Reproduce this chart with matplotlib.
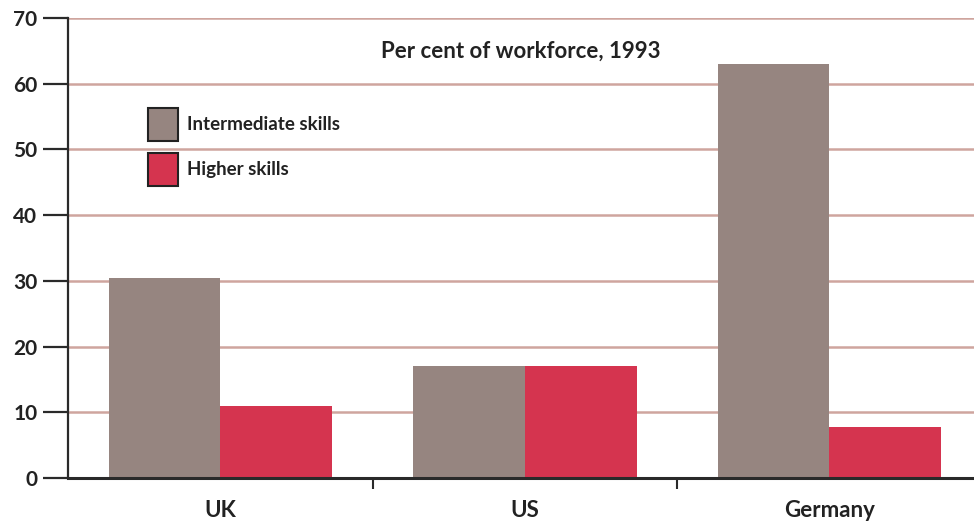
import matplotlib
matplotlib.use("Agg")
import matplotlib.pyplot as plt
from matplotlib.patches import Patch
import numpy as np

countries = ["UK", "US", "Germany"]
intermediate = [30.5, 17.0, 63.0]
higher = [11.0, 17.0, 7.8]
series_labels = ["Intermediate skills", "Higher skills"]
title = "Per cent of workforce, 1993"
y_ticks = [0, 10, 20, 30, 40, 50, 60, 70]

c_inter = "#968580"
c_high = "#d5344f"
c_grid = "#cfa59e"
c_axis = "#2a2a2a"

plt.rcParams["font.family"] = ["Lato", "DejaVu Sans"]

fig = plt.figure(figsize=(9.74, 5.27), dpi=100)
W, H = 974, 527
ax = fig.add_axes([68 / W, 49 / H, (974 - 68) / W, (478 - 18) / H])

x = np.arange(len(countries))
width = 0.367
ax.bar(x - width / 2, intermediate, width, color=c_inter, zorder=3)
ax.bar(x + width / 2, higher, width, color=c_high, zorder=3)

ax.set_xlim(-0.5, 2.475)
ax.set_ylim(0, 70)
ax.set_yticks(y_ticks)
ax.set_yticklabels([str(v) for v in y_ticks], fontsize=15, fontweight="bold", color="#222222")
for v in y_ticks[1:]:
    ax.axhline(v, color=c_grid, linewidth=1.8, zorder=1)

# category separators as x ticks, labels as minor ticks
ax.set_xticks([0.5, 1.5])
ax.set_xticklabels([])
ax.tick_params(axis="x", which="major", direction="out", length=8, width=1.5, color=c_axis)
ax.set_xticks(x, minor=True)
ax.set_xticklabels(countries, minor=True, fontsize=16, fontweight="bold", color="#222222")
ax.tick_params(axis="x", which="minor", length=0, pad=16)
ax.tick_params(axis="y", direction="out", length=18, width=1.6, color=c_axis, pad=4)

for side in ["top", "right"]:
    ax.spines[side].set_visible(False)
ax.spines["left"].set_color(c_axis)
ax.spines["left"].set_linewidth(1.6)
ax.spines["bottom"].set_color(c_axis)
ax.spines["bottom"].set_linewidth(2.2)
ax.spines["bottom"].set_zorder(4)

ax.text(0.5, 0.928, title, transform=ax.transAxes, ha="center", va="center",
        fontsize=16, fontweight="bold", color="#222222")

handles = [Patch(facecolor=c_inter, edgecolor="#222222", linewidth=1.5),
           Patch(facecolor=c_high, edgecolor="#222222", linewidth=1.5)]
leg = ax.legend(handles, series_labels, loc="upper left",
                bbox_to_anchor=(139 / W, 1 - 99 / H), bbox_transform=fig.transFigure,
                frameon=False, borderpad=0, handlelength=1.6, handleheight=2.3,
                handletextpad=0.45, labelspacing=0.65,
                prop={"size": 13.5, "weight": "bold"})
for t in leg.get_texts():
    t.set_color("#222222")

fig.savefig("out.png", dpi=100)
